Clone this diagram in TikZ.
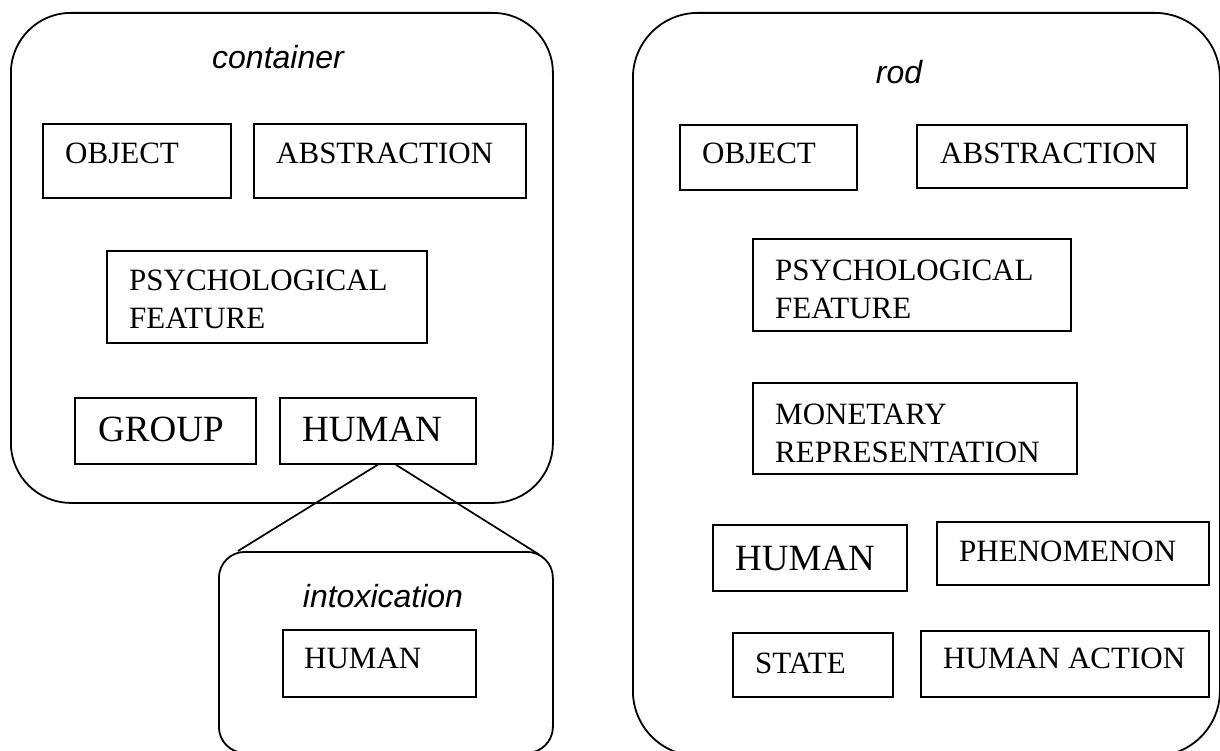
\documentclass[tikz,border=0pt]{standalone}
\usepackage{fontspec}
\setmainfont{Liberation Serif}
\setsansfont{Liberation Sans}
\usetikzlibrary{calc}

\tikzset{
  frame/.style={draw, line width=1.8pt, inner sep=0pt, anchor=north west},
  catbox/.style={draw, line width=1.7pt, inner sep=0pt, anchor=north west},
  % multi-line words are placed by the baseline of their last line
  word/.style={font=\fontsize{31}{37.5}\selectfont, anchor=base west, inner sep=0pt, align=left},
  bigword/.style={font=\fontsize{37}{44}\selectfont, anchor=base west, inner sep=0pt},
  title/.style={font=\sffamily\itshape\fontsize{32}{38}\selectfont, anchor=base, inner sep=0pt},
  link/.style={line width=1.7pt}
}

\begin{document}
\begin{tikzpicture}[x=1pt, y=-1pt]
\clip (0,0) rectangle (1220,751);

% ---- container ----
\node[frame, rounded corners=60pt, minimum width=542pt, minimum height=490pt] (cont) at (10,12) {};
\node[title] (contT) at (278,69) {container};
\node[catbox, minimum width=188pt, minimum height=74pt] (cObj) at (42,123) {};
\node[word] (cObjT) at (65,164) {OBJECT};
\node[catbox, minimum width=272pt, minimum height=74pt] (cAbs) at (253,123) {};
\node[word] (cAbsT) at (276,164) {ABSTRACTION};
\node[catbox, minimum width=320pt, minimum height=92pt] (cPsy) at (106,250) {};
\node[word] (cPsyT) at (129,328) {PSYCHOLOGICAL\\FEATURE};
\node[catbox, minimum width=181pt, minimum height=66pt] (cGrp) at (74,397) {};
\node[bigword] (cGrpT) at (98,441) {GROUP};
\node[catbox, minimum width=196pt, minimum height=66pt] (cHum) at (279,397) {};
\node[bigword] (cHumT) at (302,441) {HUMAN};

% ---- intoxication (expansion of HUMAN) ----
\node[frame, rounded corners=26pt, minimum width=334pt, minimum height=201pt] (intox) at (218,551) {};
\node[title] (intoxT) at (383,607) {intoxication};
\node[catbox, minimum width=193pt, minimum height=67pt] (iHum) at (282,629) {};
\node[word] (iHumT) at (304,668) {HUMAN};

\draw[link] (cHum.south) -- ($(intox.north west)+(20,0)$);
\draw[link] ($(cHum.south)+(18,0)$) -- ($(intox.north east)+(-14,4)$);

% ---- rod ----
\node[frame, rounded corners=65pt, minimum width=587pt, minimum height=743pt] (rod) at (632,12) {};
\node[title] (rodT) at (899,84) {rod};
\node[catbox, minimum width=177pt, minimum height=65pt] (rObj) at (679,124) {};
\node[word] (rObjT) at (702,164) {OBJECT};
\node[catbox, minimum width=270pt, minimum height=63pt] (rAbs) at (916,124) {};
\node[word] (rAbsT) at (940,164) {ABSTRACTION};
\node[catbox, minimum width=318pt, minimum height=92pt] (rPsy) at (752,238) {};
\node[word] (rPsyT) at (775,318) {PSYCHOLOGICAL\\FEATURE};
\node[catbox, minimum width=324pt, minimum height=91pt] (rMon) at (752,382) {};
\node[word] (rMonT) at (775,462) {MONETARY\\REPRESENTATION};
\node[catbox, minimum width=194pt, minimum height=66pt] (rHum) at (712,524) {};
\node[bigword] (rHumT) at (735,570) {HUMAN};
\node[catbox, minimum width=272pt, minimum height=63pt] (rPhe) at (936,521) {};
\node[word] (rPheT) at (959,561) {PHENOMENON};
\node[catbox, minimum width=160pt, minimum height=64pt] (rSta) at (732,632) {};
\node[word] (rStaT) at (755,673) {STATE};
\node[catbox, minimum width=288pt, minimum height=66pt] (rAct) at (920,630) {};
\node[word] (rActT) at (943,668) {HUMAN ACTION};
\end{tikzpicture}
\end{document}
